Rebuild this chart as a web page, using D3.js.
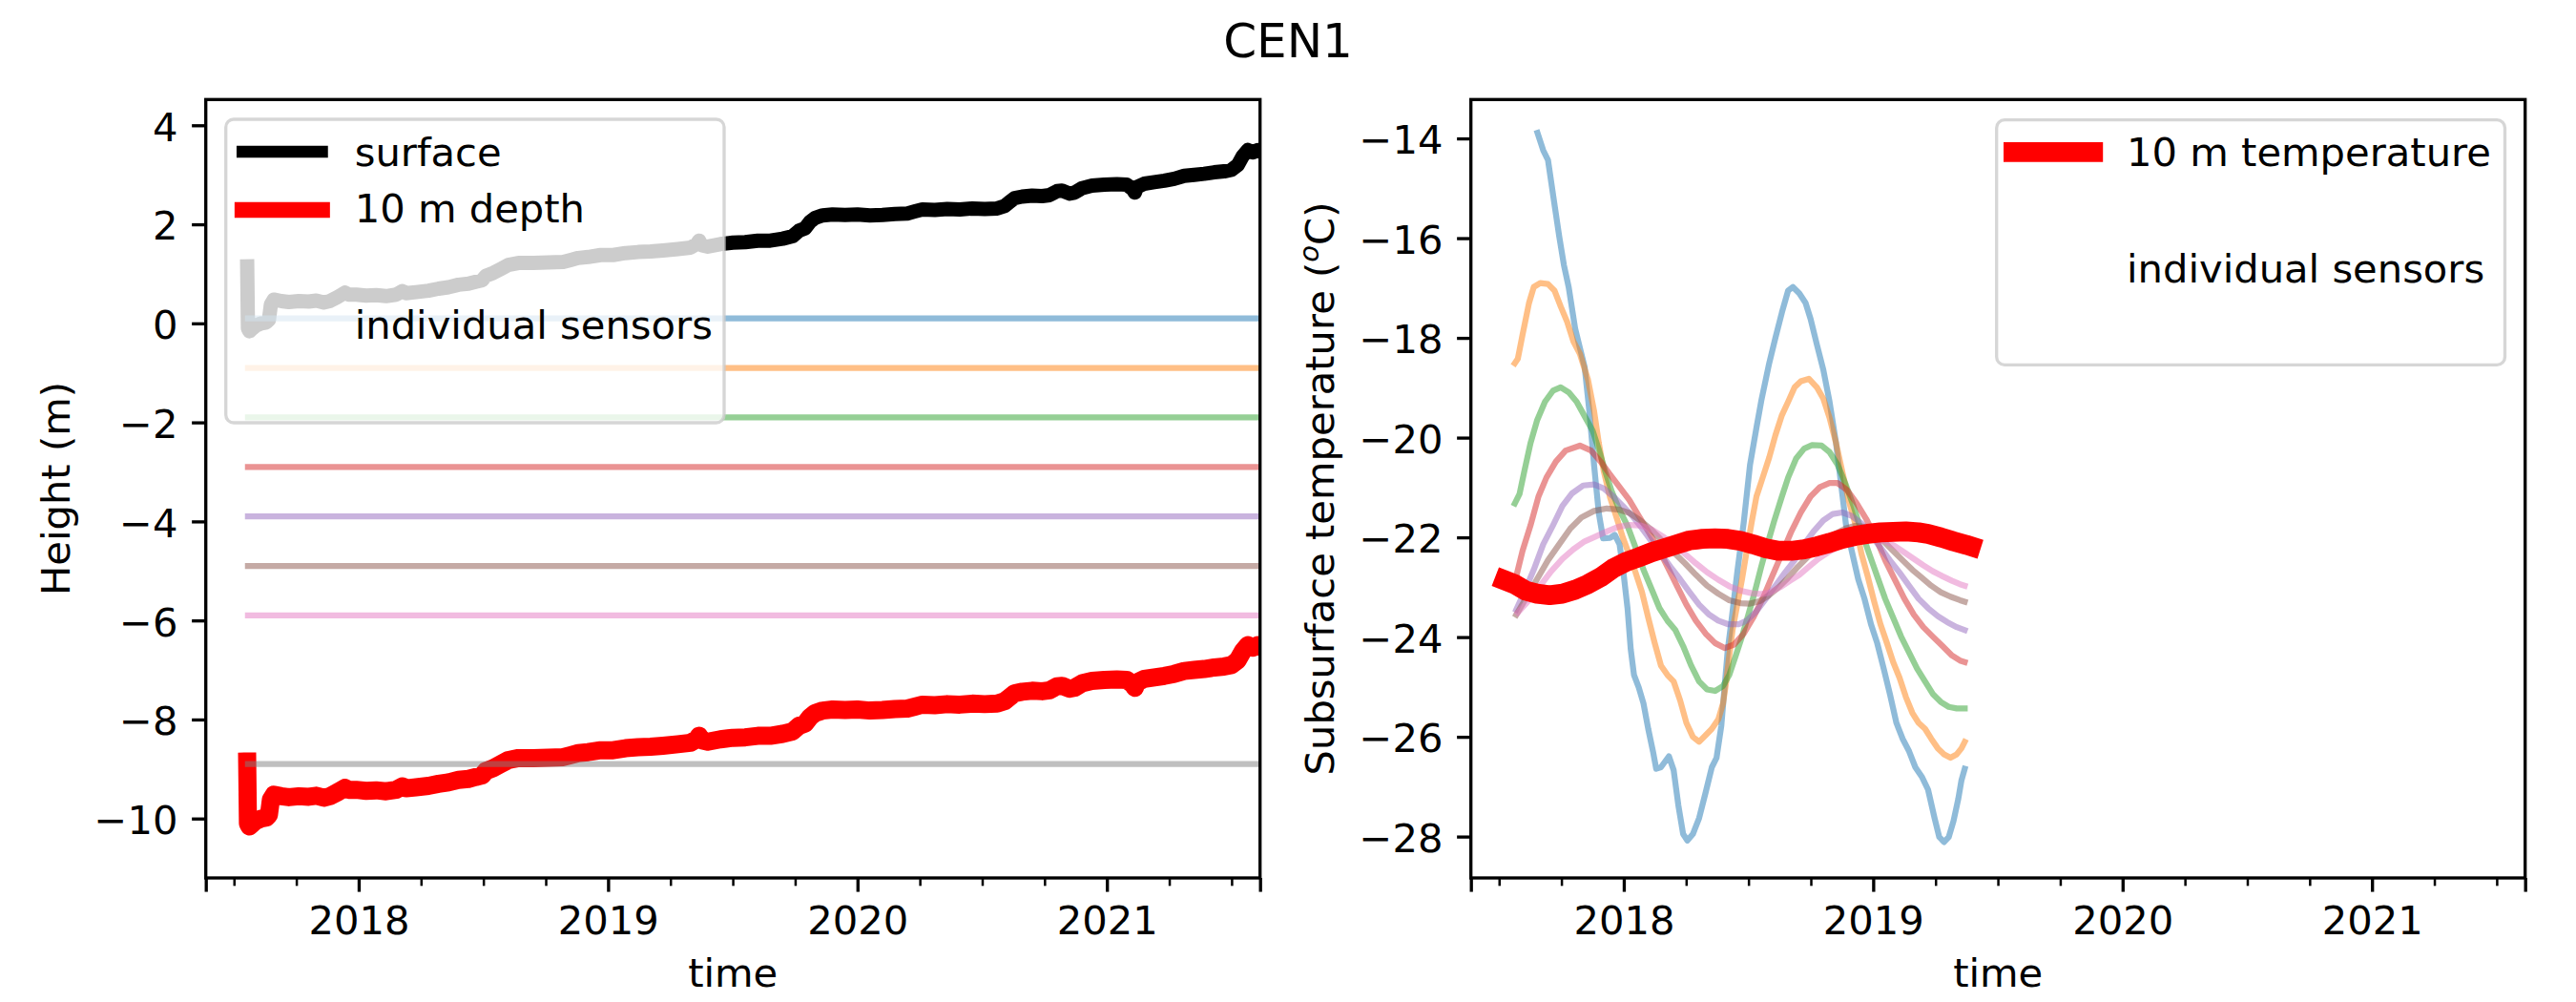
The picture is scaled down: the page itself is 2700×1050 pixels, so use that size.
<!DOCTYPE html>
<html>
<head>
<meta charset="utf-8">
<script src="https://cdn.jsdelivr.net/npm/d3@7/dist/d3.min.js"></script>
<style>
html,body{margin:0;padding:0;background:#fff;}
svg{display:block;}
text{font-family:"DejaVu Sans",sans-serif;fill:#000;}
</style>
</head>
<body>
<svg id="fig" width="2700" height="1050"></svg>
<script>
// ================= DATA =================
const figTitle = "CEN1";
const leftYLabel = "Height (m)";
const xLabel = "time";
const xLimits = [2017.387, 2021.614];
const yearTicks = [2018, 2019, 2020, 2021];
const yearTickLabels = ["2018", "2019", "2020", "2021"];
const quarterTicks = [2017.5, 2017.75, 2018.25, 2018.5, 2018.75, 2019.25, 2019.5, 2019.75, 2020.25, 2020.5, 2020.75, 2021.25, 2021.5];
const heightTicks = [4, 2, 0, -2, -4, -6, -8, -10];
const heightLimits = [-11.2, 4.52];
const tempTicks = [-14, -16, -18, -20, -22, -24, -26, -28];
const tempLimits = [-28.83, -13.22];
const leftLegendLabels = ["surface", "10 m depth", "individual sensors"];
const rightLegendLabels = ["10 m temperature", "individual sensors"];
const sensorColors = ["#1f77b4", "#ff7f0e", "#2ca02c", "#d62728", "#9467bd", "#8c564b", "#e377c2", "#7f7f7f"];
const sensorHeights = [0.1, -0.9, -1.9, -2.9, -3.9, -4.9, -5.9, -8.9];
const sensorSpan = [2017.556, 2021.62];

const heightTime = [2017.553, 2017.556, 2017.562, 2017.575, 2017.590, 2017.610, 2017.630, 2017.640, 2017.648, 2017.660,
  2017.690, 2017.720, 2017.760, 2017.800, 2017.830, 2017.860, 2017.885, 2017.915, 2017.945, 2017.960,
  2017.990, 2018.030, 2018.070, 2018.110, 2018.150, 2018.175, 2018.190, 2018.230, 2018.280, 2018.320,
  2018.360, 2018.400, 2018.440, 2018.470, 2018.495, 2018.510, 2018.540, 2018.570, 2018.600, 2018.640,
  2018.700, 2018.760, 2018.820, 2018.850, 2018.880, 2018.920, 2018.970, 2019.020, 2019.070, 2019.120,
  2019.170, 2019.220, 2019.280, 2019.330, 2019.355, 2019.365, 2019.375, 2019.400, 2019.450, 2019.500,
  2019.550, 2019.600, 2019.650, 2019.700, 2019.740, 2019.765, 2019.790, 2019.810, 2019.830, 2019.860,
  2019.900, 2019.950, 2020.000, 2020.050, 2020.100, 2020.150, 2020.200, 2020.230, 2020.260, 2020.310,
  2020.360, 2020.410, 2020.460, 2020.510, 2020.560, 2020.590, 2020.610, 2020.630, 2020.660, 2020.700,
  2020.740, 2020.770, 2020.800, 2020.820, 2020.850, 2020.870, 2020.900, 2020.940, 2020.990, 2021.040,
  2021.080, 2021.105, 2021.112, 2021.120, 2021.150, 2021.190, 2021.230, 2021.270, 2021.310, 2021.350,
  2021.390, 2021.430, 2021.470, 2021.500, 2021.525, 2021.545, 2021.565, 2021.585, 2021.605, 2021.614];

const surfaceHeight = [1.15, -0.10, -0.16, -0.10, -0.04, 0.00, 0.02, 0.07, 0.38, 0.48,
  0.45, 0.43, 0.45, 0.44, 0.46, 0.42, 0.45, 0.53, 0.62, 0.58,
  0.58, 0.56, 0.57, 0.55, 0.58, 0.65, 0.61, 0.63, 0.66, 0.70,
  0.73, 0.78, 0.80, 0.84, 0.87, 0.96, 1.02, 1.10, 1.18, 1.22,
  1.22, 1.23, 1.24, 1.28, 1.32, 1.34, 1.38, 1.38, 1.42, 1.44,
  1.45, 1.47, 1.50, 1.53, 1.60, 1.67, 1.58, 1.55, 1.60, 1.63,
  1.64, 1.67, 1.67, 1.71, 1.76, 1.87, 1.92, 2.05, 2.13, 2.18,
  2.20, 2.19, 2.20, 2.18, 2.19, 2.21, 2.22, 2.26, 2.30, 2.29,
  2.31, 2.30, 2.32, 2.31, 2.32, 2.37, 2.45, 2.53, 2.56, 2.58,
  2.57, 2.59, 2.67, 2.68, 2.62, 2.64, 2.73, 2.78, 2.80, 2.81,
  2.80, 2.70, 2.64, 2.75, 2.82, 2.85, 2.88, 2.92, 2.98, 3.00,
  3.02, 3.05, 3.07, 3.10, 3.20, 3.38, 3.50, 3.45, 3.50, 3.48];

const depth10Height = [-8.85, -10.10, -10.16, -10.10, -10.04, -10.00, -9.98, -9.93, -9.62, -9.52,
  -9.55, -9.57, -9.55, -9.56, -9.54, -9.58, -9.55, -9.47, -9.38, -9.42,
  -9.42, -9.44, -9.43, -9.45, -9.42, -9.35, -9.39, -9.37, -9.34, -9.30,
  -9.27, -9.22, -9.20, -9.16, -9.13, -9.04, -8.98, -8.90, -8.82, -8.78,
  -8.78, -8.77, -8.76, -8.72, -8.68, -8.66, -8.62, -8.62, -8.58, -8.56,
  -8.55, -8.53, -8.50, -8.47, -8.40, -8.33, -8.42, -8.45, -8.40, -8.37,
  -8.36, -8.33, -8.33, -8.29, -8.24, -8.13, -8.08, -7.95, -7.87, -7.82,
  -7.80, -7.81, -7.80, -7.82, -7.81, -7.79, -7.78, -7.74, -7.70, -7.71,
  -7.69, -7.70, -7.68, -7.69, -7.68, -7.63, -7.55, -7.47, -7.44, -7.42,
  -7.43, -7.41, -7.33, -7.32, -7.38, -7.36, -7.27, -7.22, -7.20, -7.19,
  -7.20, -7.30, -7.36, -7.25, -7.18, -7.15, -7.12, -7.08, -7.02, -7.00,
  -6.98, -6.95, -6.93, -6.90, -6.80, -6.62, -6.50, -6.55, -6.50, -6.52];

// sensor temperature series: [decimal year, degC]
const sensorTemp1 = [[2017.654,-13.89],[2017.677,-14.24],[2017.696,-14.43],[2017.722,-15.32],[2017.741,-15.96],[2017.760,-16.54],[2017.779,-16.98],[2017.805,-17.81],[2017.824,-18.20],[2017.843,-18.58],[2017.862,-19.47],[2017.881,-20.56],[2017.900,-21.52],[2017.917,-22.02],[2017.945,-22.01],[2017.964,-21.95],[2017.983,-22.14],[2017.996,-22.59],[2018.015,-23.42],[2018.028,-24.25],[2018.041,-24.76],[2018.060,-25.01],[2018.079,-25.33],[2018.098,-25.84],[2018.117,-26.29],[2018.130,-26.64],[2018.149,-26.61],[2018.181,-26.39],[2018.200,-26.67],[2018.219,-27.38],[2018.238,-27.95],[2018.255,-28.08],[2018.277,-27.95],[2018.302,-27.63],[2018.328,-27.12],[2018.353,-26.61],[2018.372,-26.42],[2018.391,-25.78],[2018.404,-25.01],[2018.417,-24.25],[2018.430,-23.74],[2018.455,-22.70],[2018.481,-21.70],[2018.506,-20.55],[2018.532,-19.80],[2018.551,-19.27],[2018.583,-18.51],[2018.608,-18.00],[2018.634,-17.49],[2018.659,-17.05],[2018.678,-16.98],[2018.704,-17.11],[2018.729,-17.30],[2018.749,-17.62],[2018.774,-18.13],[2018.800,-18.64],[2018.825,-19.28],[2018.851,-20.11],[2018.870,-20.88],[2018.891,-21.75],[2018.914,-22.27],[2018.940,-22.84],[2018.965,-23.23],[2018.991,-23.74],[2019.016,-24.12],[2019.042,-24.63],[2019.067,-25.14],[2019.093,-25.72],[2019.118,-26.04],[2019.144,-26.29],[2019.169,-26.61],[2019.195,-26.80],[2019.220,-27.06],[2019.246,-27.63],[2019.265,-28.01],[2019.284,-28.11],[2019.303,-28.01],[2019.322,-27.69],[2019.341,-27.25],[2019.354,-26.87],[2019.367,-26.64]];
const sensorTemp2 = [[2017.563,-18.51],[2017.575,-18.42],[2017.594,-17.94],[2017.620,-17.30],[2017.639,-16.98],[2017.665,-16.90],[2017.696,-16.92],[2017.722,-17.05],[2017.747,-17.37],[2017.773,-17.68],[2017.798,-18.07],[2017.824,-18.32],[2017.856,-18.83],[2017.881,-19.47],[2017.900,-20.11],[2017.920,-20.68],[2017.945,-21.20],[2017.971,-21.60],[2017.996,-22.00],[2018.022,-22.35],[2018.047,-22.70],[2018.073,-23.10],[2018.098,-23.61],[2018.124,-24.12],[2018.149,-24.57],[2018.175,-24.76],[2018.200,-24.89],[2018.226,-25.27],[2018.251,-25.72],[2018.277,-26.00],[2018.302,-26.10],[2018.328,-25.97],[2018.353,-25.84],[2018.379,-25.65],[2018.398,-25.33],[2018.411,-24.89],[2018.423,-24.37],[2018.436,-23.86],[2018.455,-23.35],[2018.474,-22.84],[2018.493,-22.27],[2018.513,-21.69],[2018.532,-21.18],[2018.557,-20.80],[2018.583,-20.40],[2018.608,-19.95],[2018.634,-19.55],[2018.659,-19.28],[2018.685,-18.99],[2018.710,-18.87],[2018.742,-18.82],[2018.774,-18.99],[2018.800,-19.22],[2018.825,-19.60],[2018.851,-20.11],[2018.876,-20.68],[2018.902,-21.26],[2018.927,-21.71],[2018.953,-22.33],[2018.978,-22.78],[2019.004,-23.29],[2019.029,-23.74],[2019.055,-24.12],[2019.080,-24.50],[2019.106,-24.82],[2019.131,-25.20],[2019.157,-25.52],[2019.182,-25.72],[2019.208,-25.84],[2019.233,-26.04],[2019.259,-26.23],[2019.284,-26.35],[2019.310,-26.42],[2019.335,-26.35],[2019.354,-26.23],[2019.367,-26.10]];
const sensorTemp3 = [[2017.563,-21.32],[2017.582,-21.13],[2017.601,-20.68],[2017.626,-20.11],[2017.652,-19.66],[2017.684,-19.28],[2017.716,-19.06],[2017.747,-18.99],[2017.779,-19.09],[2017.811,-19.28],[2017.843,-19.57],[2017.875,-19.86],[2017.900,-20.24],[2017.926,-20.68],[2017.951,-21.07],[2017.983,-21.45],[2018.015,-21.77],[2018.047,-22.20],[2018.079,-22.65],[2018.111,-23.03],[2018.143,-23.42],[2018.175,-23.67],[2018.207,-23.86],[2018.238,-24.18],[2018.270,-24.57],[2018.302,-24.89],[2018.334,-25.05],[2018.366,-25.08],[2018.398,-24.98],[2018.423,-24.76],[2018.449,-24.37],[2018.474,-23.99],[2018.500,-23.54],[2018.525,-23.10],[2018.551,-22.59],[2018.576,-22.14],[2018.602,-21.69],[2018.634,-21.18],[2018.659,-20.80],[2018.691,-20.42],[2018.723,-20.22],[2018.755,-20.15],[2018.793,-20.16],[2018.825,-20.29],[2018.857,-20.54],[2018.889,-20.93],[2018.921,-21.37],[2018.953,-21.88],[2018.984,-22.33],[2019.016,-22.78],[2019.048,-23.23],[2019.080,-23.61],[2019.112,-23.99],[2019.144,-24.31],[2019.176,-24.63],[2019.208,-24.89],[2019.239,-25.14],[2019.271,-25.30],[2019.303,-25.40],[2019.335,-25.43],[2019.367,-25.43]];
const sensorTemp4 = [[2017.569,-22.78],[2017.594,-22.27],[2017.626,-21.76],[2017.658,-21.18],[2017.690,-20.80],[2017.728,-20.48],[2017.767,-20.26],[2017.824,-20.16],[2017.869,-20.26],[2017.907,-20.48],[2017.945,-20.74],[2017.983,-20.99],[2018.022,-21.25],[2018.060,-21.57],[2018.098,-21.88],[2018.136,-22.20],[2018.175,-22.59],[2018.213,-22.97],[2018.251,-23.35],[2018.289,-23.67],[2018.328,-23.93],[2018.366,-24.12],[2018.404,-24.22],[2018.442,-24.15],[2018.481,-23.93],[2018.519,-23.61],[2018.557,-23.23],[2018.595,-22.78],[2018.634,-22.33],[2018.672,-21.88],[2018.710,-21.50],[2018.749,-21.18],[2018.787,-20.99],[2018.825,-20.91],[2018.857,-20.91],[2018.895,-21.05],[2018.933,-21.31],[2018.972,-21.63],[2019.010,-22.01],[2019.048,-22.46],[2019.086,-22.84],[2019.125,-23.23],[2019.163,-23.55],[2019.201,-23.80],[2019.239,-23.99],[2019.278,-24.18],[2019.316,-24.37],[2019.348,-24.47],[2019.367,-24.50]];
const sensorTemp5 = [[2017.569,-23.45],[2017.601,-23.10],[2017.639,-22.65],[2017.677,-22.14],[2017.716,-21.76],[2017.754,-21.37],[2017.792,-21.12],[2017.837,-20.96],[2017.881,-20.94],[2017.920,-21.02],[2017.958,-21.18],[2017.996,-21.37],[2018.034,-21.57],[2018.073,-21.82],[2018.111,-22.08],[2018.149,-22.33],[2018.187,-22.59],[2018.226,-22.84],[2018.264,-23.10],[2018.302,-23.35],[2018.340,-23.54],[2018.379,-23.67],[2018.417,-23.74],[2018.462,-23.74],[2018.493,-23.67],[2018.532,-23.48],[2018.570,-23.23],[2018.608,-22.97],[2018.646,-22.71],[2018.685,-22.46],[2018.723,-22.14],[2018.761,-21.88],[2018.800,-21.66],[2018.838,-21.53],[2018.876,-21.50],[2018.914,-21.57],[2018.953,-21.72],[2018.991,-21.95],[2019.029,-22.20],[2019.067,-22.46],[2019.106,-22.71],[2019.144,-22.97],[2019.182,-23.23],[2019.220,-23.42],[2019.259,-23.58],[2019.297,-23.70],[2019.335,-23.80],[2019.367,-23.86]];
const sensorTemp6 = [[2017.569,-23.55],[2017.607,-23.23],[2017.652,-22.84],[2017.696,-22.46],[2017.741,-22.14],[2017.786,-21.82],[2017.830,-21.60],[2017.881,-21.47],[2017.932,-21.42],[2017.977,-21.44],[2018.022,-21.51],[2018.066,-21.66],[2018.111,-21.85],[2018.156,-22.08],[2018.200,-22.30],[2018.245,-22.52],[2018.289,-22.75],[2018.334,-22.97],[2018.379,-23.13],[2018.423,-23.26],[2018.468,-23.32],[2018.506,-23.33],[2018.544,-23.28],[2018.583,-23.16],[2018.621,-23.00],[2018.659,-22.81],[2018.698,-22.59],[2018.736,-22.40],[2018.774,-22.20],[2018.812,-22.04],[2018.851,-21.92],[2018.889,-21.82],[2018.927,-21.77],[2018.965,-21.79],[2019.004,-21.88],[2019.042,-22.08],[2019.080,-22.27],[2019.118,-22.46],[2019.157,-22.65],[2019.195,-22.81],[2019.233,-22.97],[2019.271,-23.10],[2019.310,-23.19],[2019.348,-23.26],[2019.367,-23.29]];
const sensorTemp7 = [[2017.575,-23.51],[2017.620,-23.26],[2017.665,-22.97],[2017.709,-22.68],[2017.754,-22.43],[2017.798,-22.24],[2017.843,-22.08],[2017.888,-21.98],[2017.932,-21.88],[2017.977,-21.79],[2018.022,-21.75],[2018.066,-21.76],[2018.111,-21.84],[2018.156,-21.98],[2018.200,-22.14],[2018.245,-22.33],[2018.289,-22.52],[2018.334,-22.70],[2018.379,-22.85],[2018.423,-22.98],[2018.468,-23.07],[2018.513,-23.12],[2018.551,-23.14],[2018.589,-23.10],[2018.627,-23.00],[2018.666,-22.87],[2018.704,-22.75],[2018.742,-22.59],[2018.780,-22.43],[2018.819,-22.30],[2018.857,-22.20],[2018.895,-22.14],[2018.933,-22.08],[2018.972,-22.04],[2019.010,-22.04],[2019.048,-22.08],[2019.086,-22.17],[2019.125,-22.30],[2019.163,-22.43],[2019.201,-22.56],[2019.239,-22.68],[2019.278,-22.78],[2019.316,-22.87],[2019.348,-22.94],[2019.367,-22.97]];
const temp10m = [[2017.522,-22.86],[2017.563,-22.94],[2017.607,-23.07],[2017.652,-23.13],[2017.703,-23.16],[2017.754,-23.13],[2017.805,-23.05],[2017.856,-22.94],[2017.907,-22.80],[2017.958,-22.62],[2018.009,-22.49],[2018.060,-22.40],[2018.111,-22.30],[2018.162,-22.22],[2018.213,-22.14],[2018.264,-22.06],[2018.315,-22.03],[2018.366,-22.02],[2018.417,-22.03],[2018.468,-22.07],[2018.519,-22.14],[2018.570,-22.22],[2018.621,-22.27],[2018.672,-22.27],[2018.723,-22.24],[2018.774,-22.18],[2018.825,-22.11],[2018.876,-22.03],[2018.927,-21.97],[2018.978,-21.93],[2019.029,-21.90],[2019.080,-21.89],[2019.131,-21.88],[2019.182,-21.90],[2019.220,-21.93],[2019.271,-22.00],[2019.322,-22.08],[2019.373,-22.15],[2019.392,-22.18]];
const sensorTemps = [sensorTemp1, sensorTemp2, sensorTemp3, sensorTemp4, sensorTemp5, sensorTemp6, sensorTemp7];

// ================= LAYOUT =================
const FS = 41.67;           // 10 pt @ 300 dpi
const axTop = 104.3, axBottom = 920;
const leftRange = [215.7, 1320.7];
const rightRange = [1541.7, 2646.7];
const spineW = 3.33, majorLen = 14.58, minorLen = 8.33, majorW = 3.33, minorW = 2.5;

const svg = d3.select("#fig");
svg.append("rect").attr("width", 2700).attr("height", 1050).attr("fill", "#fff");

function panel(range, yDomain, id) {
  const x = d3.scaleLinear().domain(xLimits).range(range);
  const y = d3.scaleLinear().domain(yDomain).range([axBottom, axTop]);
  svg.append("clipPath").attr("id", id).append("rect")
    .attr("x", range[0]).attr("y", axTop).attr("width", range[1] - range[0]).attr("height", axBottom - axTop);
  const g = svg.append("g").attr("clip-path", `url(#${id})`);
  return {x, y, g, range};
}

function drawAxes(p, yTicks) {
  const gmin = svg.append("g").attr("transform", `translate(0,${axBottom})`)
    .call(d3.axisBottom(p.x).tickValues(quarterTicks).tickSize(minorLen).tickFormat(""));
  gmin.select(".domain").remove();
  gmin.selectAll("line").attr("stroke", "#000").attr("stroke-width", minorW);
  const gmaj = svg.append("g").attr("transform", `translate(0,${axBottom})`)
    .call(d3.axisBottom(p.x).tickValues([xLimits[0]].concat(yearTicks, [xLimits[1]]))
      .tickSize(majorLen).tickPadding(majorLen)
      .tickFormat(d => { const i = yearTicks.indexOf(d); return i < 0 ? "" : yearTickLabels[i]; }));
  gmaj.select(".domain").remove();
  gmaj.selectAll("line").attr("stroke", "#000").attr("stroke-width", majorW);
  gmaj.selectAll("text").attr("font-size", FS).attr("font-family", "DejaVu Sans").attr("fill", "#000");
  const gy = svg.append("g").attr("transform", `translate(${p.range[0]},0)`)
    .call(d3.axisLeft(p.y).tickValues(yTicks).tickSize(majorLen).tickPadding(majorLen).tickFormat(d3.format("d")));
  gy.select(".domain").remove();
  gy.selectAll("line").attr("stroke", "#000").attr("stroke-width", majorW);
  gy.selectAll("text").attr("font-size", FS).attr("font-family", "DejaVu Sans").attr("fill", "#000").attr("dy", "0.38em");
  svg.append("rect").attr("x", p.range[0]).attr("y", axTop)
    .attr("width", p.range[1] - p.range[0]).attr("height", axBottom - axTop)
    .attr("fill", "none").attr("stroke", "#000").attr("stroke-width", spineW);
  svg.append("text").attr("x", (p.range[0] + p.range[1]) / 2).attr("y", 1034)
    .attr("text-anchor", "middle").attr("font-size", FS).text(xLabel);
}

function drawLine(p, data, color, width, opacity) {
  p.g.append("path").datum(data)
    .attr("d", d3.line().x(d => p.x(d[0])).y(d => p.y(d[1])))
    .attr("fill", "none").attr("stroke", color).attr("stroke-width", width)
    .attr("stroke-opacity", opacity).attr("stroke-linecap", "square").attr("stroke-linejoin", "round");
}

function legendBox(x, y, w, h) {
  svg.append("rect").attr("x", x).attr("y", y).attr("width", w).attr("height", h)
    .attr("rx", 8.3).attr("ry", 8.3)
    .attr("fill", "#fff").attr("fill-opacity", 0.8)
    .attr("stroke", "#cccccc").attr("stroke-opacity", 0.8).attr("stroke-width", spineW);
}

// ================= LEFT PANEL =================
const L = panel(leftRange, heightLimits, "clipL");
drawLine(L, heightTime.map((t, i) => [t, surfaceHeight[i]]), "#000", 15, 1);
drawLine(L, heightTime.map((t, i) => [t, depth10Height[i]]), "#ff0000", 19, 1);
sensorHeights.forEach((h, i) => {
  drawLine(L, sensorSpan.map(t => [t, h]), sensorColors[i], 6.25, 0.5);
});
drawAxes(L, heightTicks);
svg.append("text").attr("transform", `translate(73.4,512) rotate(-90)`)
  .attr("text-anchor", "middle").attr("font-size", FS).text(leftYLabel);

legendBox(236.7, 125, 522.3, 318);
svg.append("line").attr("x1", 254.2).attr("x2", 337.5).attr("y1", 159).attr("y2", 159)
  .attr("stroke", "#000").attr("stroke-width", 12.5).attr("stroke-linecap", "square");
svg.append("line").attr("x1", 254.2).attr("x2", 337.5).attr("y1", 220).attr("y2", 220)
  .attr("stroke", "#ff0000").attr("stroke-width", 16.7).attr("stroke-linecap", "square");
[174, 233, 355].forEach((yb, i) => {
  svg.append("text").attr("x", 371.7).attr("y", yb).attr("font-size", FS).text(leftLegendLabels[i]);
});

// ================= RIGHT PANEL =================
const R = panel(rightRange, tempLimits, "clipR");
sensorTemps.forEach((s, i) => drawLine(R, s, sensorColors[i], 6.25, 0.5));
drawLine(R, temp10m, "#ff0000", 20.8, 1);
drawAxes(R, tempTicks);
const rl = svg.append("text").attr("transform", `translate(1398,512) rotate(-90)`)
  .attr("text-anchor", "middle").attr("font-size", FS);
rl.append("tspan").text("Subsurface temperature (");
rl.append("tspan").attr("font-size", 29).attr("font-style", "italic").attr("dy", -16).text("o");
rl.append("tspan").attr("dy", 16).text("C)");

legendBox(2092.7, 125.7, 532.8, 256.6);
svg.append("line").attr("x1", 2110.4).attr("x2", 2193.8).attr("y1", 159.4).attr("y2", 159.4)
  .attr("stroke", "#ff0000").attr("stroke-width", 20.8).attr("stroke-linecap", "square");
[174.3, 296].forEach((yb, i) => {
  svg.append("text").attr("x", 2229).attr("y", yb).attr("font-size", FS).text(rightLegendLabels[i]);
});

svg.append("text").attr("x", 1350).attr("y", 60).attr("text-anchor", "middle")
  .attr("font-size", 50).text(figTitle);
</script>
</body>
</html>
